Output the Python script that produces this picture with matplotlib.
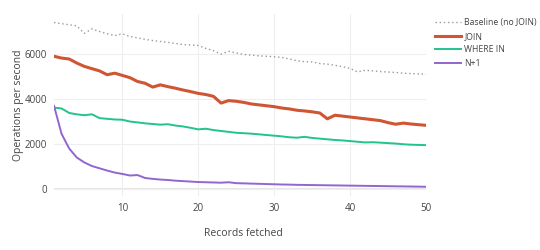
import numpy as np
import matplotlib
matplotlib.use('Agg')
import matplotlib.pyplot as plt

plt.rcParams['font.family'] = ['Open Sans', 'DejaVu Sans']

records = np.arange(1, 51)

baseline = [7400, 7350, 7300, 7250, 6920, 7120, 7000, 6900, 6820, 6900,
            6780, 6720, 6650, 6600, 6560, 6520, 6470, 6420, 6400, 6380,
            6250, 6150, 6000, 6120, 6050, 5980, 5950, 5920, 5900, 5880,
            5850, 5780, 5700, 5660, 5650, 5580, 5550, 5500, 5440, 5360,
            5200, 5280, 5250, 5220, 5200, 5180, 5150, 5130, 5120, 5100]

join = [5900, 5820, 5780, 5600, 5450, 5350, 5250, 5080, 5150, 5050,
        4950, 4780, 4700, 4530, 4630, 4550, 4480, 4400, 4330, 4250,
        4200, 4120, 3820, 3930, 3900, 3850, 3780, 3740, 3700, 3660,
        3600, 3560, 3500, 3470, 3430, 3380, 3120, 3280, 3240, 3200,
        3160, 3120, 3080, 3040, 2950, 2880, 2930, 2890, 2860, 2830]

where_in = [3620, 3580, 3380, 3320, 3280, 3320, 3150, 3120, 3090, 3080,
            3000, 2960, 2920, 2890, 2860, 2880, 2820, 2780, 2720, 2650,
            2680, 2620, 2580, 2540, 2500, 2480, 2460, 2430, 2400, 2370,
            2340, 2300, 2280, 2320, 2270, 2240, 2210, 2180, 2160, 2130,
            2100, 2070, 2080, 2060, 2040, 2020, 1990, 1970, 1960, 1950]

n_plus_1 = [3700, 2450, 1800, 1400, 1180, 1020, 920, 820, 730, 670,
            600, 620, 490, 450, 420, 400, 370, 350, 330, 310,
            300, 290, 280, 300, 260, 250, 240, 230, 220, 210,
            200, 195, 185, 180, 175, 170, 165, 160, 155, 150,
            145, 140, 135, 130, 125, 120, 115, 110, 105, 100]

fig = plt.figure(figsize=(5.4, 2.5), dpi=100)
ax = fig.add_axes([0.1, 0.2152, 0.689, 0.727])

ax.plot(records, baseline, linestyle=(0, (1, 2)), color='#999999', linewidth=1.0,
        label='Baseline (no JOIN)')
ax.plot(records, join, color='#cf5533', linewidth=2.2, label='JOIN')
ax.plot(records, where_in, color='#22c38c', linewidth=1.4, label='WHERE IN')
ax.plot(records, n_plus_1, color='#9166cf', linewidth=1.4, label='N+1')

ax.set_xlim(1, 50)
ax.set_ylim(-320, 7760)
ax.set_xticks([10, 20, 30, 40, 50])
ax.set_yticks([0, 2000, 4000, 6000])

for s in ax.spines.values():
    s.set_visible(False)
ax.grid(True, color='#eeeeee', linewidth=0.8)
ax.axhline(0, color='#e2e2e2', linewidth=1.2, zorder=0.5)
ax.set_axisbelow(True)
ax.tick_params(length=0, labelsize=7, labelcolor='#444444', pad=5)

ax.set_xlabel('Records fetched', fontsize=7.5, color='#444444')
ax.set_ylabel('Operations per second', fontsize=7.5, color='#444444')
ax.xaxis.set_label_coords(0.51, -0.175)
ax.yaxis.set_label_coords(-0.08, 0.5)

ax.legend(loc='upper left', bbox_to_anchor=(1.015, 1.0), frameon=False,
          fontsize=6.2, handlelength=3.0, labelcolor='#444444',
          borderaxespad=0, labelspacing=0.55, handletextpad=0.4)

fig.savefig('out.png', dpi=100)
